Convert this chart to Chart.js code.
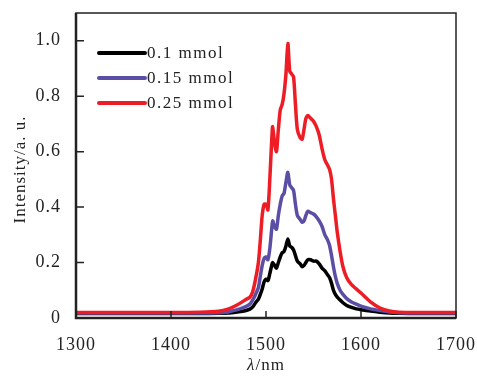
<!DOCTYPE html>
<html>
<head>
<meta charset="utf-8">
<script src="https://cdn.jsdelivr.net/npm/chart.js@4"></script>
<style>
  html, body { margin: 0; padding: 0; background: #fff; }
  #wrap { width: 477px; height: 377px; }
</style>
</head>
<body>
<div id="wrap"><canvas id="spectrum"></canvas></div>
<script>
// wavelength (nm) and intensities
const wavelengths = [1300, 1350, 1400, 1430, 1450, 1460, 1470, 1478, 1483, 1486, 1489, 1492, 1494, 1496, 1498, 1500, 1502, 1504, 1506, 1507, 1509, 1511, 1513, 1515, 1517, 1519, 1521, 1523, 1525, 1527, 1529, 1531, 1533, 1536, 1538, 1540, 1542, 1544, 1547, 1550, 1553, 1556, 1559, 1562, 1565, 1567, 1569, 1571, 1573, 1575, 1578, 1581, 1585, 1590, 1595, 1600, 1610, 1620, 1630, 1640, 1660, 1700];
const series01 = [0.016, 0.016, 0.016, 0.016, 0.017, 0.018, 0.022, 0.026, 0.032, 0.04, 0.055, 0.068, 0.085, 0.105, 0.13, 0.14, 0.135, 0.16, 0.19, 0.2, 0.19, 0.18, 0.2, 0.22, 0.235, 0.24, 0.26, 0.285, 0.26, 0.255, 0.245, 0.225, 0.205, 0.195, 0.185, 0.19, 0.2, 0.21, 0.21, 0.205, 0.205, 0.195, 0.18, 0.17, 0.155, 0.145, 0.125, 0.1, 0.085, 0.075, 0.065, 0.055, 0.045, 0.038, 0.033, 0.03, 0.025, 0.021, 0.018, 0.017, 0.016, 0.016];
const series015 = [0.018, 0.018, 0.018, 0.018, 0.019, 0.022, 0.03, 0.04, 0.05, 0.065, 0.085, 0.11, 0.15, 0.19, 0.215, 0.22, 0.21, 0.25, 0.32, 0.35, 0.33, 0.32, 0.37, 0.41, 0.44, 0.45, 0.49, 0.525, 0.48, 0.47, 0.46, 0.41, 0.37, 0.355, 0.345, 0.35, 0.37, 0.385, 0.38, 0.375, 0.365, 0.35, 0.33, 0.3, 0.28, 0.26, 0.225, 0.185, 0.15, 0.125, 0.1, 0.085, 0.07, 0.058, 0.05, 0.043, 0.033, 0.027, 0.022, 0.019, 0.018, 0.018];
const series025 = [0.02, 0.02, 0.02, 0.021, 0.024, 0.032, 0.048, 0.065, 0.075, 0.095, 0.14, 0.2, 0.28, 0.37, 0.41, 0.41, 0.39, 0.5, 0.64, 0.69, 0.63, 0.6, 0.68, 0.75, 0.77, 0.81, 0.88, 0.99, 0.89, 0.88, 0.87, 0.77, 0.68, 0.65, 0.645, 0.68, 0.72, 0.73, 0.72, 0.71, 0.69, 0.66, 0.61, 0.57, 0.55, 0.535, 0.5, 0.43, 0.37, 0.31, 0.24, 0.185, 0.145, 0.12, 0.105, 0.09, 0.058, 0.036, 0.025, 0.021, 0.02, 0.02];
const seriesLabels = ['0.1 mmol', '0.15 mmol', '0.25 mmol'];
const xTicks = [1300, 1400, 1500, 1600, 1700];
const yTicks = [0, 0.2, 0.4, 0.6, 0.8, 1.0];

const serif = '"Liberation Serif", "DejaVu Serif", serif';
const colors = ['#000000', '#5a4fa5', '#ee1c25'];

const toPoints = vals => wavelengths.map((w, i) => ({ x: w, y: vals[i] }));

// fixed axis boxes, and no extra padding for edge labels
const fixBox = size => s => {
  if (s.isHorizontal()) s.height = size; else s.width = size;
  s.paddingTop = s.paddingBottom = s.paddingLeft = s.paddingRight = 0;
};

// the original lettering is a bit wide, spread it slightly
const spacing = {
  id: 'spacing',
  beforeDraw(chart) { chart.ctx.letterSpacing = '1px'; }
};

// box around the plot, inward ticks, legend inside, axis titles
const decor = {
  id: 'decor',
  afterDraw(chart) {
    const ctx = chart.ctx;
    const a = chart.chartArea;
    const xs = chart.scales.x, ys = chart.scales.y;
    ctx.save();
    ctx.strokeStyle = '#222';
    ctx.lineWidth = 1.5;
    ctx.strokeRect(a.left, a.top, a.right - a.left, a.bottom - a.top);
    ctx.lineWidth = 2.5;
    ctx.beginPath();
    ctx.moveTo(a.left, a.top); ctx.lineTo(a.left, a.bottom); ctx.lineTo(a.right, a.bottom);
    ctx.stroke();
    ctx.lineWidth = 1.5;
    ctx.beginPath();
    xTicks.forEach(v => {
      const px = xs.getPixelForValue(v);
      ctx.moveTo(px, a.bottom); ctx.lineTo(px, a.bottom - 7);
    });
    yTicks.forEach(v => {
      const py = ys.getPixelForValue(v);
      ctx.moveTo(a.left, py); ctx.lineTo(a.left + 8, py);
    });
    ctx.stroke();

    // legend
    ctx.letterSpacing = '1.5px';
    ctx.font = '17px ' + serif;
    ctx.textBaseline = 'middle';
    ctx.fillStyle = '#222';
    chart.data.datasets.forEach((ds, i) => {
      const y = 53 + i * 25;
      ctx.strokeStyle = ds.borderColor;
      ctx.lineWidth = 4;
      ctx.lineCap = 'round';
      ctx.beginPath();
      ctx.moveTo(99, y); ctx.lineTo(145, y);
      ctx.stroke();
      ctx.fillText(ds.label, 147, y + 1);
    });

    // axis titles
    ctx.letterSpacing = '1px';
    ctx.font = 'italic 17px ' + serif;
    const l = ctx.measureText('λ').width;
    ctx.font = '17px ' + serif;
    const r = ctx.measureText('/nm').width;
    const cx = (a.left + a.right) / 2 - (l + r) / 2;
    ctx.textAlign = 'left';
    ctx.font = 'italic 17px ' + serif;
    ctx.fillText('λ', cx, 366);
    ctx.font = '17px ' + serif;
    ctx.fillText('/nm', cx + l, 366);

    ctx.translate(21, (a.top + a.bottom) / 2 + 4);
    ctx.rotate(-Math.PI / 2);
    ctx.textAlign = 'center';
    ctx.font = '17px ' + serif;
    ctx.fillText('Intensity/a. u.', 0, 0);
    ctx.restore();
  }
};

const datasets = [series01, series015, series025].map((vals, i) => ({
  label: seriesLabels[i],
  data: toPoints(vals),
  borderColor: colors[i],
  backgroundColor: colors[i],
  borderWidth: 3.5,
  pointRadius: 0,
  tension: 0.25,
  fill: false,
  order: 3 - i
}));

new Chart(document.getElementById('spectrum'), {
  type: 'line',
  data: { datasets: datasets },
  options: {
    responsive: true,
    maintainAspectRatio: false,
    animation: false,
    layout: { padding: { top: 13, right: 21, left: 0, bottom: 0 } },
    plugins: { legend: { display: false }, tooltip: { enabled: false } },
    scales: {
      x: {
        type: 'linear',
        min: 1300,
        max: 1700,
        afterBuildTicks: s => { s.ticks = xTicks.map(v => ({ value: v })); },
        afterFit: fixBox(59),
        grid: { display: false },
        border: { display: false },
        ticks: {
          font: { family: serif, size: 18 },
          color: '#222',
          padding: 8,
          maxRotation: 0,
          callback: v => String(v)
        }
      },
      y: {
        min: 0,
        max: 1.1,
        afterBuildTicks: s => { s.ticks = yTicks.map(v => ({ value: v })); },
        afterFit: fixBox(76),
        grid: { display: false },
        border: { display: false },
        ticks: {
          font: { family: serif, size: 18 },
          color: '#222',
          padding: 7,
          callback: v => v === 0 ? '0' : v.toFixed(1)
        }
      }
    }
  },
  plugins: [spacing, decor]
});
</script>
</body>
</html>
